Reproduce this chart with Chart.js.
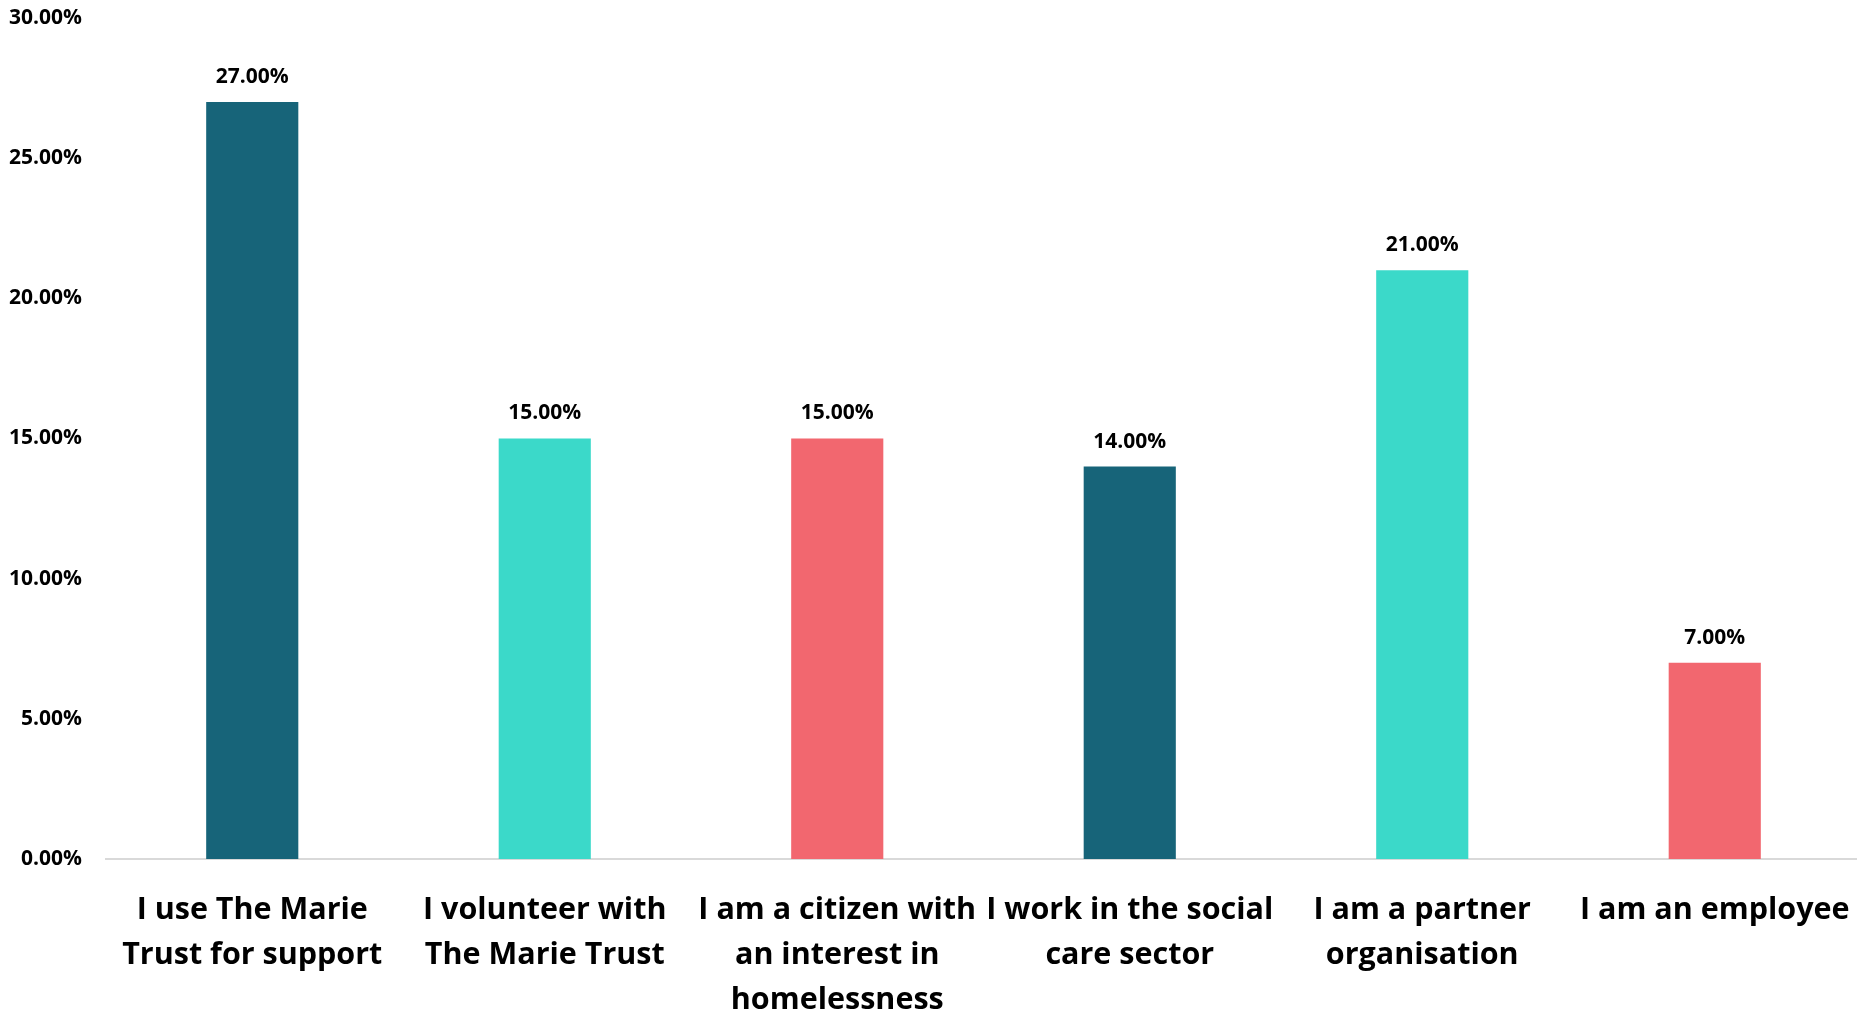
<!DOCTYPE html>
<html>
<head>
<meta charset="utf-8">
<script src="https://cdn.jsdelivr.net/npm/chart.js@4/dist/chart.umd.min.js"></script>
<style>
  html, body { margin: 0; padding: 0; background: #ffffff; }
  #wrap { width: 1857px; height: 1017px; }
</style>
</head>
<body>
<div id="wrap"><canvas id="chart" width="1857" height="1017"></canvas></div>
<script>
// Survey respondents by relationship to The Marie Trust
const categories = [
  ["I use The Marie", "Trust for support"],
  ["I volunteer with", "The Marie Trust"],
  ["I am a citizen with", "an interest in", "homelessness"],
  ["I work in the social", "care sector"],
  ["I am a partner", "organisation"],
  ["I am an employee"]
];
const shares = [27, 15, 15, 14, 21, 7];
const barColors = ["#176479", "#3bd9c9", "#f2676f", "#176479", "#3bd9c9", "#f2676f"];
const yTicks = [0, 5, 10, 15, 20, 25, 30];

const FONT = "'Open Sans', 'DejaVu Sans', sans-serif";
// the plot runs a few pixels past the right edge of the canvas
const RIGHT_OVERHANG = 4;

// Stretches the category axis slightly past the canvas edge
const overhang = {
  id: 'overhang',
  afterLayout(chart) {
    const x = chart.scales.x;
    x.right += RIGHT_OVERHANG;
    x.width += RIGHT_OVERHANG;
    chart.chartArea.right += RIGHT_OVERHANG;
    chart.chartArea.width += RIGHT_OVERHANG;
    x.configure();
  }
};

// Writes each bar's value just above it
const valueLabels = {
  id: 'valueLabels',
  afterDatasetsDraw(chart) {
    const ctx = chart.ctx;
    const meta = chart.getDatasetMeta(0);
    ctx.save();
    ctx.font = "bold 21px " + FONT;
    ctx.fillStyle = "#000000";
    ctx.textAlign = "center";
    ctx.textBaseline = "middle";
    meta.data.forEach((bar, i) => {
      ctx.fillText(shares[i].toFixed(2) + "%", bar.x, bar.y - 25);
    });
    ctx.restore();
  }
};

new Chart(document.getElementById('chart'), {
  type: 'bar',
  data: {
    labels: categories,
    datasets: [{
      data: shares,
      backgroundColor: barColors,
      borderWidth: 0,
      categoryPercentage: 1.0,
      barPercentage: 0.315
    }]
  },
  options: {
    responsive: false,
    animation: false,
    devicePixelRatio: 1,
    layout: { padding: { top: 18, right: 0, bottom: 0, left: 0 } },
    plugins: {
      legend: { display: false },
      tooltip: { enabled: false }
    },
    scales: {
      x: {
        grid: { display: false, drawTicks: false },
        border: { display: true, color: "#d9d9d9", width: 2 },
        ticks: {
          color: "#000000",
          font: { family: FONT, size: 30.5, weight: 'bold', lineHeight: '45px' },
          padding: 29,
          maxRotation: 0,
          minRotation: 0,
          autoSkip: false
        },
        afterFit(scale) {
          scale.height = 158;
          scale.paddingLeft = 0;
          scale.paddingRight = 0;
        }
      },
      y: {
        min: 0,
        max: 30,
        afterBuildTicks(scale) {
          scale.ticks = yTicks.map(v => ({ value: v }));
        },
        grid: { display: false, drawTicks: false },
        border: { display: false },
        ticks: {
          color: "#000000",
          font: { family: FONT, size: 21, weight: 'bold' },
          padding: 24,
          callback: v => v.toFixed(2) + "%"
        },
        afterFit(scale) {
          scale.width = 106;
          scale.paddingTop = 0;
          scale.paddingBottom = 0;
        }
      }
    }
  },
  plugins: [overhang, valueLabels]
});
</script>
</body>
</html>
